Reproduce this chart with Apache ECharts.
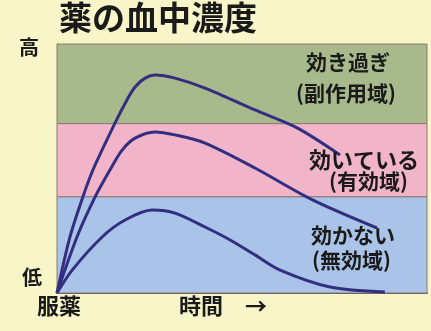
<!DOCTYPE html>
<html><head><meta charset="utf-8">
<script src="https://cdn.jsdelivr.net/npm/echarts@6/dist/echarts.min.js"></script>
<style>html,body{margin:0;padding:0;background:#f8f5c8;}#c{width:431px;height:331px;}</style>
</head><body><div id="c"></div>
<script>
var title = '薬の血中濃度';
var yLabels = ['高', '低'];
var xLabels = ['服薬', '時間', '→'];
var bandNames = [['効き過ぎ', '(副作用域)'], ['効いている', '(有効域)'], ['効かない', '(無効域)']];
var bandBounds = [[68, 100], [38.6, 68], [0, 38.6]];
var bandColors = ['#a8ba8c', '#f1b4c9', '#a9c4e8'];
var curveHigh = [[0,0],[3.5,22.5],[7.0,38.6],[9.7,49.4],[15.7,68.3],[18.9,77.5],[21.1,82.7],[23.8,86.3],[26.5,87.6],[31.9,86.3],[40,82.3],[53.5,73.5],[64.9,66.3],[76.5,55.4]];
var curveMid = [[0,0],[5.4,22.5],[10.3,38.6],[14.3,49.4],[17.6,57.4],[21.1,62.2],[26.5,64.7],[31.9,63.5],[40,60.2],[53.5,50.2],[69.2,37.3],[86.5,26.1]];
var curveLow = [[0,0],[4.1,9.2],[12.2,22.5],[18.4,29.3],[25.7,33.3],[31.9,32.1],[40,26.5],[46.8,21.3],[53.5,15.3],[60.3,9.2],[73.8,2.4],[88.6,0.4]];

var font = '"Noto Sans CJK JP", sans-serif';
var chart = echarts.init(document.getElementById('c'));
var lineStyle = {color: '#332e80', width: 3};
function mk(d){ return {type:'line', data:d, smooth:0.3, symbol:'none', lineStyle:lineStyle, z:5}; }
var s0 = mk(curveHigh);
s0.markArea = {silent:true, data: bandBounds.map(function(b,i){
  return [{yAxis:b[0], itemStyle:{color:bandColors[i], borderColor:'#8c7a70', borderWidth:1, opacity:1}}, {yAxis:b[1]}];
}), label:{show:false}};
function txt(t, x, y, size){ return {type:'text', left:x, top:y, style:{text:t, font:'bold '+size+'px '+font, fill:'#1a1a1a'}, z:20}; }
chart.setOption({
  backgroundColor: '#f8f5c8',
  animation: false,
  grid: {left:57, right:4, top:44, bottom:38},
  xAxis: {type:'value', min:0, max:100, axisLine:{show:true, lineStyle:{color:'#555', width:2}}, axisTick:{show:false}, axisLabel:{show:false}, splitLine:{show:false}},
  yAxis: {type:'value', min:0, max:100, axisLine:{show:true, lineStyle:{color:'#555', width:1}}, axisTick:{show:false}, axisLabel:{show:false}, splitLine:{show:false}},
  series: [s0, mk(curveMid), mk(curveLow)],
  graphic: [
    txt(title, 59, 1, 33),
    txt(yLabels[0], 19, 37, 20),
    txt(yLabels[1], 22, 267, 20),
    txt(xLabels[0], 37, 295, 22),
    txt(xLabels[1], 179, 295, 22),
    txt(xLabels[2], 245, 295, 22),
    txt(bandNames[0][0], 306, 52, 21),
    txt(bandNames[0][1], 296, 83, 21),
    txt(bandNames[1][0], 309, 149, 22),
    txt(bandNames[1][1], 329, 171, 21),
    txt(bandNames[2][0], 311, 225, 21),
    txt(bandNames[2][1], 312, 250, 21)
  ]
});
</script></body></html>
